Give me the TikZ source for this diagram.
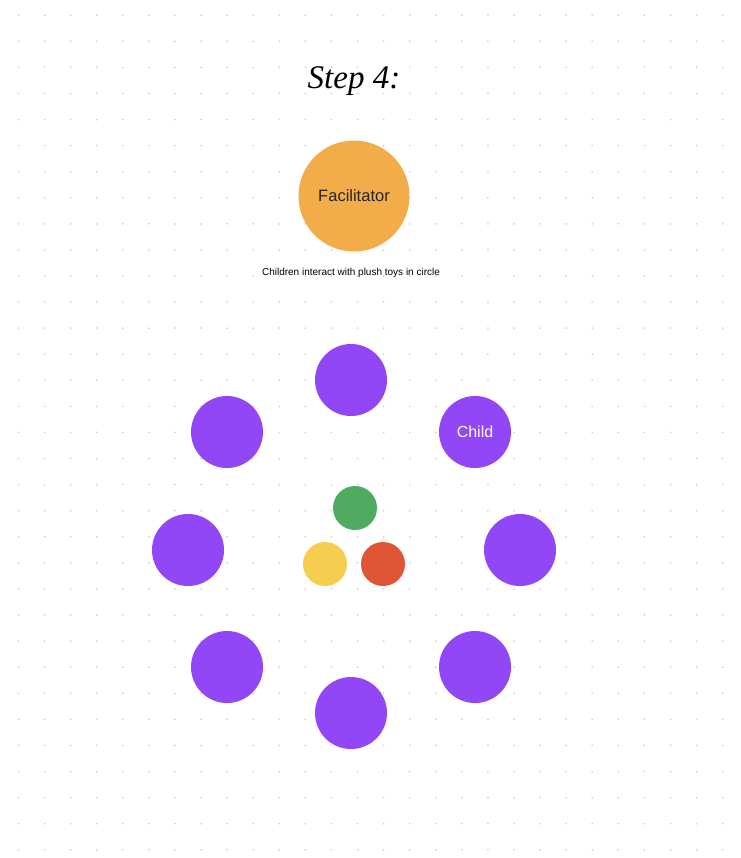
\documentclass[tikz,border=0pt]{standalone}
\usepackage{fontspec}
\setmainfont{Liberation Sans}
\newfontfamily\titlefont{Liberation Serif}
\definecolor{kidpurple}{HTML}{9147F5}
\definecolor{facorange}{HTML}{F3AC4A}
\definecolor{toygreen}{HTML}{50AB62}
\definecolor{toyyellow}{HTML}{F6CE4F}
\definecolor{toyred}{HTML}{E05535}
\definecolor{griddot}{HTML}{D2D2D2}
\tikzset{
  kid/.style={circle,fill=kidpurple,minimum size=72pt,inner sep=0pt,text=white,font=\fontsize{16}{18}\selectfont},
  fac/.style={circle,fill=facorange,minimum size=111pt,inner sep=0pt,text=black!85,font=\fontsize{16.5}{18}\selectfont},
  toy/.style={circle,minimum size=44pt,inner sep=0pt},
}
\begin{document}
\begin{tikzpicture}[x=1pt,y=-1pt]
\useasboundingbox[fill=white] (0,0) rectangle (740,858);
\foreach \i in {0,...,27}{
  \foreach \j in {0,...,32}{
    \fill[griddot] ({18.5+26.08*\i},{15.2+26.08*\j}) circle (1);
  }
}
\node (title) at (354,81) {\titlefont\itshape\fontsize{33}{36}\selectfont Step 4:};
\node[fac] (facilitator) at (354,196) {Facilitator};
\node (caption) at (351,273) {\fontsize{10}{12}\selectfont Children interact with plush toys in circle};
\node[kid] (k1) at (351,380) {};
\node[kid] (k2) at (227,432) {};
\node[kid] (k3) at (475,432) {Child};
\node[kid] (k4) at (188,550) {};
\node[kid] (k5) at (520,550) {};
\node[kid] (k6) at (227,667) {};
\node[kid] (k7) at (475,667) {};
\node[kid] (k8) at (351,713) {};
\node[toy,fill=toygreen] (green) at (355,508) {};
\node[toy,fill=toyyellow] (yellow) at (325,564) {};
\node[toy,fill=toyred] (red) at (383,564) {};
\end{tikzpicture}
\end{document}
